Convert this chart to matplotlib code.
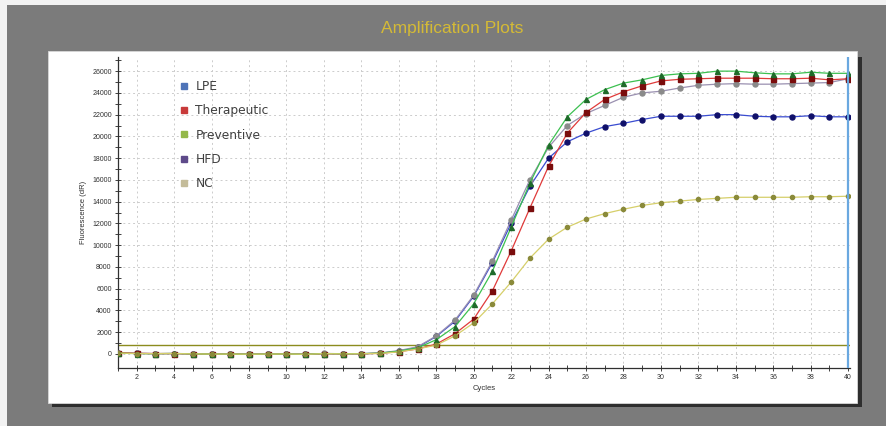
import numpy as np
import matplotlib
matplotlib.use("Agg")
import matplotlib.pyplot as plt
from matplotlib.lines import Line2D
from matplotlib.patches import Rectangle

plt.rcParams['font.family'] = ['Liberation Sans', 'DejaVu Sans']

cycles = list(range(1, 41))

# baseline cycles 1-15 are flat near zero
lpe = [80, 40, 20, 30, 0, -20, -20, -30, -20, -10, -40, 20, 0, 10, 60,
       250, 600, 1600, 3000, 5300, 8400, 12000, 15400, 18000, 19500, 20300,
       20900, 21200, 21550, 21850, 21850, 21850, 22000, 22000, 21850, 21800,
       21800, 21900, 21800, 21800]
therapeutic = [120, 50, 30, 30, 0, -20, -20, -30, -20, -10, -40, 10, 0, 10, 50,
               200, 450, 900, 1850, 3200, 5800, 9450, 13400, 17250, 20300, 22200,
               23400, 24100, 24650, 25100, 25250, 25300, 25350, 25350, 25350, 25300,
               25300, 25350, 25200, 25300]
preventive = [60, 30, 20, 40, 0, -20, -20, -30, -20, -10, -40, 30, 10, 20, 70,
              250, 550, 1300, 2500, 4600, 7600, 11650, 15700, 19200, 21800, 23400,
              24300, 24900, 25200, 25600, 25750, 25800, 26000, 26000, 25850, 25750,
              25750, 25900, 25800, 25800]
hfd = [90, 40, 20, 30, 0, -20, -20, -30, -20, -10, -40, 40, 10, 20, 80,
       300, 650, 1650, 3100, 5400, 8550, 12300, 16000, 19000, 21000, 22100,
       22850, 23600, 24000, 24150, 24450, 24700, 24800, 24850, 24800, 24800,
       24850, 24900, 24950, 25300]
nc = [70, 30, 20, 30, 0, -20, -20, -30, -20, -10, -40, 20, 0, 10, 40,
      180, 450, 800, 1650, 2850, 4600, 6600, 8800, 10550, 11650, 12400,
      12900, 13300, 13650, 13900, 14050, 14200, 14300, 14400, 14400, 14400,
      14400, 14450, 14450, 14500]

threshold = 800
series_names = ['LPE', 'Therapeutic', 'Preventive', 'HFD', 'NC']
legend_colors = ['#4f74b8', '#c83a3a', '#94b84a', '#5e4a8a', '#c4bc9a']

fig = plt.figure(figsize=(8.87, 4.26), dpi=100)
fig.patch.set_facecolor('#f2f2f2')

# gray frame, white panel and its shadow
fig.patches.append(Rectangle((7/887, 0), 1, 1 - 5/426, transform=fig.transFigure,
                             facecolor='#7b7b7b', edgecolor='none', zorder=0))
fig.patches.append(Rectangle((52/887, 1 - 407/426), 810/887, 350/426, transform=fig.transFigure,
                             facecolor='#2e2e2e', edgecolor='none', zorder=1))
fig.patches.append(Rectangle((48/887, 1 - 403/426), 809/887, 352/426, transform=fig.transFigure,
                             facecolor='white', edgecolor='#d8d8d8', lw=0.6, zorder=2))

fig.text(0.51, 1 - 28/426, 'Amplification Plots', color='#d4ba36', fontsize=12.5,
         ha='center', va='center')

ax = fig.add_axes([118/887, 1 - 368/426, (850 - 118)/887, (368 - 57)/426])
ax.set_facecolor('none')
ax.set_zorder(5)

styles = [
    (lpe, '#3a4cd0', 'o', '#10106a'),
    (hfd, '#9a90b0', 'o', '#8a8a8a'),
    (therapeutic, '#e03a3a', 's', '#7a0c0c'),
    (preventive, '#3cc050', '^', '#1f6a2a'),
    (nc, '#d6cf6a', 'o', '#8a8a3a'),
]
for vals, lc, mk, mc in styles:
    ms = 3 if vals is nc else 3.6
    ax.plot(cycles, vals, color=lc, lw=0.9, marker=mk, markersize=ms,
            markerfacecolor=mc, markeredgecolor=mc, zorder=3)

ax.axhline(threshold, color='#8c8c1e', lw=1.0, zorder=2)
ax.axvline(40, color='#6aa8e0', lw=1.6, zorder=4)

ax.set_xlim(1, 40.1)
ax.set_ylim(-1300, 27300)
ax.set_xticks(range(2, 41, 2))
ax.set_xticks(range(1, 41, 2), minor=True)
ax.set_yticks(range(0, 26001, 2000))
ax.set_yticks(range(1000, 27001, 2000), minor=True)

ax.grid(True, which='major', color='#cccccc', ls=(0, (2, 3)), lw=0.7, zorder=1)
ax.tick_params(which='major', direction='inout', length=5, width=0.7, color='#404040',
               labelsize=5, labelcolor='#303030', pad=2)
ax.tick_params(which='minor', direction='inout', length=4, width=0.7, color='#404040')

for s in ['top', 'right']:
    ax.spines[s].set_visible(False)
for s in ['left', 'bottom']:
    ax.spines[s].set_color('#303030')
    ax.spines[s].set_linewidth(0.9)

ax.set_xlabel('Cycles', fontsize=5.5, color='#303030', labelpad=3)
ax.set_ylabel('Fluorescence (dR)', fontsize=5.5, color='#303030', labelpad=4)

handles = [Line2D([], [], ls='none', marker='s', markersize=5, markerfacecolor=c,
                  markeredgecolor=c) for c in legend_colors]
leg = ax.legend(handles, series_names, loc='upper left', bbox_to_anchor=(0.068, 0.962),
                frameon=False, prop={'family': 'DejaVu Sans', 'size': 8.8},
                labelspacing=0.93, handlelength=0.8, handletextpad=0.55)
for t in leg.get_texts():
    t.set_color('#404040')

fig.savefig('out.png', dpi=100, facecolor=fig.get_facecolor())
